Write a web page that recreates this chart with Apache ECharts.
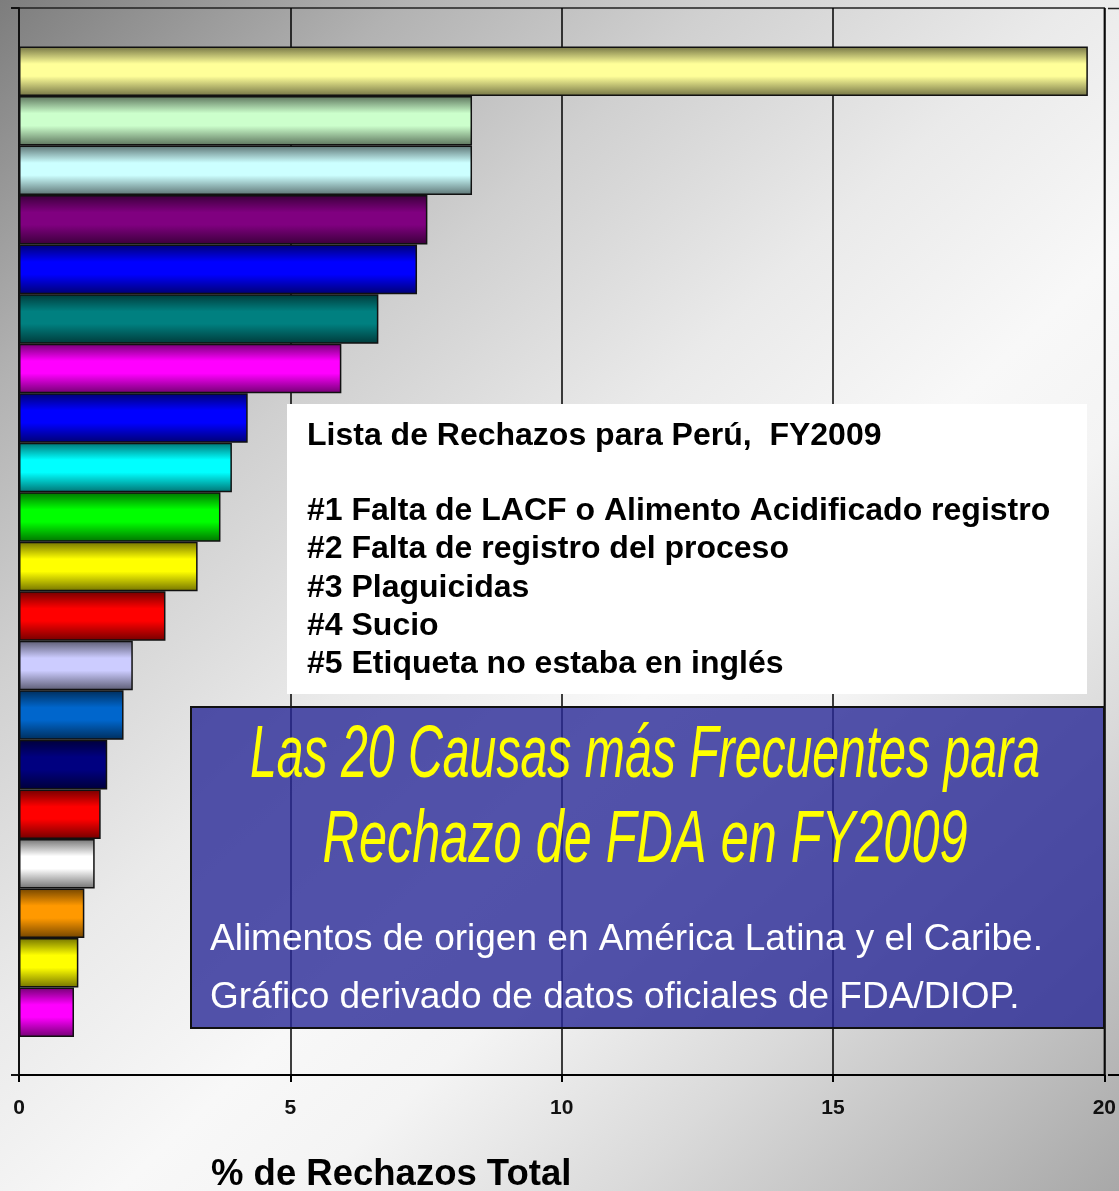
<!DOCTYPE html>
<html>
<head>
<meta charset="utf-8">
<title>Rechazos FDA FY2009</title>
<script src="https://cdn.jsdelivr.net/npm/echarts@6/dist/echarts.min.js"></script>
<style>
  html, body { margin: 0; padding: 0; }
  #main { width: 1119px; height: 1191px; }
</style>
</head>
<body>
<div id="main"></div>
<script>
// causas de rechazo, de mayor a menor
var causes = ['#1', '#2', '#3', '#4', '#5', '#6', '#7', '#8', '#9', '#10',
  '#11', '#12', '#13', '#14', '#15', '#16', '#17', '#18', '#19', '#20'];
var rejectPct = [19.63, 8.32, 8.32, 7.50, 7.31, 6.60, 5.92, 4.20, 3.91, 3.70,
  3.28, 2.69, 2.09, 1.92, 1.62, 1.50, 1.39, 1.20, 1.09, 1.01];
var barColors = ['#ffff99', '#ccffcc', '#ccffff', '#800080', '#0000ff', '#008080', '#ff00ff',
  '#0000ff', '#00ffff', '#00ff00', '#ffff00', '#ff0000', '#ccccff', '#0066cc', '#000080',
  '#ff0000', '#ffffff', '#ff9900', '#ffff00', '#ff00ff'];
var xMin = 0, xMax = 20, xStep = 5;

var listTitle = 'Lista de Rechazos para Perú,  FY2009';
var listLines = [
  '#1 Falta de LACF o Alimento Acidificado registro',
  '#2 Falta de registro del proceso',
  '#3 Plaguicidas',
  '#4 Sucio',
  '#5 Etiqueta no estaba en inglés'
];
var titleLines = ['Las 20 Causas más Frecuentes para', 'Rechazo de FDA en FY2009'];
var noteLines = [
  'Alimentos de origen en América Latina y el Caribe.',
  'Gráfico derivado de datos oficiales de FDA/DIOP.'
];
var axisTitle = '% de Rechazos Total';

function shade(hex, f) {
  var n = parseInt(hex.slice(1), 16);
  var r = Math.round(((n >> 16) & 255) * f);
  var g = Math.round(((n >> 8) & 255) * f);
  var b = Math.round((n & 255) * f);
  return 'rgb(' + r + ',' + g + ',' + b + ')';
}

// efecto cilindro de las barras
function barFill(hex) {
  return new echarts.graphic.LinearGradient(0, 0, 0, 1, [
    {offset: 0, color: shade(hex, 0.45)},
    {offset: 0.35, color: hex},
    {offset: 0.6, color: hex},
    {offset: 1, color: shade(hex, 0.45)}
  ]);
}

var measureCtx = document.createElement('canvas').getContext('2d');
function textWidth(text, font) {
  measureCtx.font = font;
  return measureCtx.measureText(text).width;
}

var FONT = '"Liberation Sans", Arial, sans-serif';
var titleFont = 'italic 74px ' + FONT;
var titleWidths = [790, 645];

var graphics = [];
// cuadro blanco con la lista
graphics.push({
  type: 'rect', z: 100,
  shape: {x: 287, y: 404, width: 800, height: 290},
  style: {fill: '#ffffff'}
});
graphics.push({
  type: 'text', z: 101, x: 307, y: 436,
  style: {text: listTitle, font: 'bold 32px ' + FONT, fill: '#000', verticalAlign: 'middle'}
});
listLines.forEach(function (t, i) {
  graphics.push({
    type: 'text', z: 101, x: 307, y: 511 + i * 38.4,
    style: {text: t, font: 'bold 32px ' + FONT, fill: '#000', verticalAlign: 'middle'}
  });
});
// cuadro azul con el título
graphics.push({
  type: 'rect', z: 100,
  shape: {x: 191, y: 707, width: 913, height: 321},
  style: {fill: 'rgba(40,40,150,0.8)', stroke: '#111', lineWidth: 2}
});
titleLines.forEach(function (t, i) {
  var sx = titleWidths[i] / textWidth(t, titleFont);
  graphics.push({
    type: 'text', z: 101, x: 645, y: [756, 841][i], scaleX: sx,
    style: {
      text: t, font: titleFont, fill: '#ffff00', align: 'center', verticalAlign: 'middle',
      shadowColor: 'rgba(0,0,0,0.75)', shadowBlur: 3, shadowOffsetX: 3, shadowOffsetY: 3
    }
  });
});
noteLines.forEach(function (t, i) {
  graphics.push({
    type: 'text', z: 101, x: 210, y: [940, 998][i],
    style: {
      text: t, font: '37px ' + FONT, fill: '#ffffff', verticalAlign: 'middle',
      shadowColor: 'rgba(0,0,0,0.8)', shadowBlur: 2, shadowOffsetX: 2, shadowOffsetY: 2
    }
  });
});
graphics.push({
  type: 'text', z: 101, x: 211, y: 1175,
  style: {text: axisTitle, font: 'bold 36.5px ' + FONT, fill: '#000', verticalAlign: 'middle'}
});
// el eje y el borde superior siguen hasta el borde derecho
graphics.push({
  type: 'line', z: 5,
  shape: {x1: 1108, y1: 8.5, x2: 1119, y2: 8.5},
  style: {stroke: '#222', lineWidth: 1.5}
});
graphics.push({
  type: 'line', z: 5,
  shape: {x1: 1108, y1: 1075, x2: 1119, y2: 1075},
  style: {stroke: '#000', lineWidth: 2}
});

var myChart = echarts.init(document.getElementById('main'));
myChart.setOption({
  backgroundColor: {
    type: 'linear', x: 0, y: 0, x2: 1, y2: 1,
    colorStops: [
      {offset: 0, color: '#7d7d7d'},
      {offset: 0.17, color: '#b2b2b2'},
      {offset: 0.3, color: '#d0d0d0'},
      {offset: 0.45, color: '#eaeaea'},
      {offset: 0.58, color: '#f8f8f8'},
      {offset: 0.66, color: '#f4f4f4'},
      {offset: 0.79, color: '#dadada'},
      {offset: 1, color: '#a8a8a8'}
    ]
  },
  animation: false,
  grid: [
    {left: 19, right: 11, top: 8, bottom: 116, show: true, borderColor: '#222', borderWidth: 1.5},
    {left: 19, right: 11, top: 46.5, bottom: 154}
  ],
  xAxis: [
    {
      gridIndex: 0, type: 'value', min: xMin, max: xMax, interval: xStep,
      axisLine: {show: true, lineStyle: {color: '#000', width: 2}},
      axisTick: {show: true, length: 7, lineStyle: {color: '#000', width: 2}},
      axisLabel: {fontFamily: FONT, fontWeight: 'bold', fontSize: 21, color: '#111', margin: 23},
      splitLine: {show: true, lineStyle: {color: '#000', width: 1.5}}
    },
    {gridIndex: 1, type: 'value', min: xMin, max: xMax, show: false}
  ],
  yAxis: [
    {
      gridIndex: 0, type: 'category', data: [''],
      axisLine: {show: true, lineStyle: {color: '#111', width: 2}},
      axisTick: {show: true, length: 8, lineStyle: {color: '#111', width: 2}},
      axisLabel: {show: false}
    },
    {gridIndex: 1, type: 'category', data: causes, inverse: true, show: false}
  ],
  series: [{
    type: 'bar',
    xAxisIndex: 1,
    yAxisIndex: 1,
    barCategoryGap: 0,
    silent: true,
    data: rejectPct.map(function (v, i) {
      return {value: v, itemStyle: {color: barFill(barColors[i])}};
    }),
    itemStyle: {borderColor: '#111', borderWidth: 1.5}
  }],
  graphic: graphics
});
</script>
</body>
</html>
